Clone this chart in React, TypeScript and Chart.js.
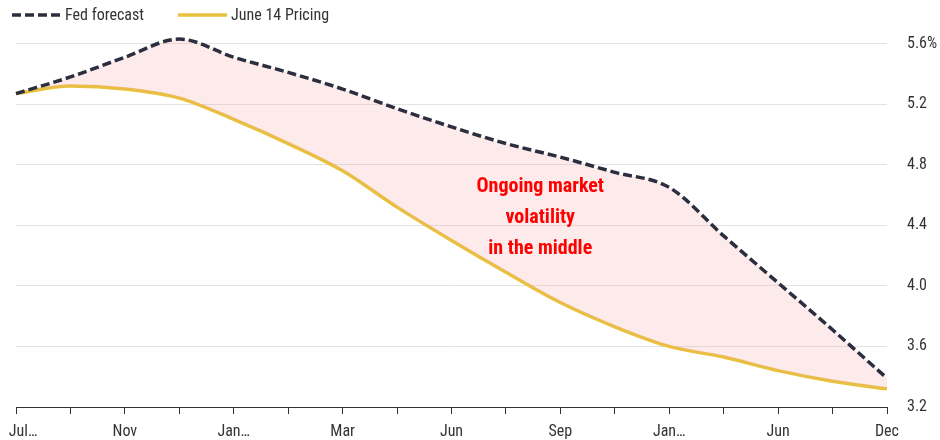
import React, { useEffect, useRef } from "react";
import { Chart, registerables } from "chart.js";

Chart.register(...registerables);

const FONT = '"Roboto Condensed", "Liberation Sans Narrow", "DejaVu Sans Condensed", sans-serif';

const categories = [
  "Jul 2023", "Sep", "Nov", "Dec", "Jan 2024", "Feb", "Mar", "May", "Jun",
  "Jul", "Sep", "Nov", "Jan 2025", "Mar", "Jun", "Sep", "Dec",
];

const fedForecast = [
  5.27, 5.38, 5.51, 5.63, 5.51, 5.41, 5.3, 5.17, 5.05, 4.94, 4.85, 4.75, 4.65,
  4.33, 4.02, 3.71, 3.39,
];

const june14Pricing = [
  5.27, 5.32, 5.3, 5.24, 5.1, 4.94, 4.76, 4.52, 4.3, 4.09, 3.89, 3.73, 3.6,
  3.53, 3.44, 3.37, 3.32,
];

const yTicks = [3.2, 3.6, 4.0, 4.4, 4.8, 5.2, 5.6];

const noteLines = ["Ongoing market", "volatility", "in the middle"];

const seriesNames = ["Fed forecast", "June 14 Pricing"];

const legendPlugin = {
  id: "lineLegend",
  afterDraw(chart: any) {
    const ctx = chart.ctx;
    let x = 12;
    const y = 15;
    chart.data.datasets.forEach((ds: any) => {
      ctx.save();
      ctx.strokeStyle = ds.borderColor;
      ctx.lineWidth = ds.borderWidth;
      ctx.setLineDash(ds.borderDash || []);
      ctx.beginPath();
      ctx.moveTo(x, y);
      ctx.lineTo(x + 49, y);
      ctx.stroke();
      ctx.setLineDash([]);
      ctx.font = `16px ${FONT}`;
      ctx.fillStyle = "#333333";
      ctx.textBaseline = "middle";
      ctx.textAlign = "left";
      ctx.fillText(ds.label, x + 53, y + 1);
      const w = ctx.measureText(ds.label).width;
      x = x + 53 + w + 34;
      ctx.restore();
    });
  },
};

const notePlugin = {
  id: "midNote",
  afterDatasetsDraw(chart: any) {
    const { ctx, scales } = chart;
    const cx = scales.x.getPixelForValue(9.63);
    const cy = scales.y.getPixelForValue(4.655);
    ctx.save();
    ctx.fillStyle = "#ff0000";
    ctx.font = `bold 20px ${FONT}`;
    ctx.textAlign = "center";
    ctx.textBaseline = "middle";
    noteLines.forEach((t, i) => ctx.fillText(t, cx, cy + i * 31));
    ctx.restore();
  },
};

export default function App() {
  const ref = useRef<HTMLCanvasElement | null>(null);

  useEffect(() => {
    if (!ref.current) return;
    const chart = new Chart(ref.current, {
      type: "line",
      data: {
        labels: categories,
        datasets: [
          {
            label: seriesNames[0],
            data: fedForecast,
            borderColor: "#2b2e3e",
            borderWidth: 3.5,
            borderDash: [9, 4],
            pointRadius: 0,
            cubicInterpolationMode: "monotone",
            fill: "+1",
            backgroundColor: "rgba(244,160,160,0.22)",
          },
          {
            label: seriesNames[1],
            data: june14Pricing,
            borderColor: "#e8c23c",
            borderWidth: 3.5,
            pointRadius: 0,
            cubicInterpolationMode: "monotone",
            fill: false,
          },
        ],
      },
      options: {
        animation: false,
        responsive: true,
        maintainAspectRatio: false,
        layout: { padding: { top: 30, left: 16, right: 0, bottom: 0 } },
        plugins: {
          legend: { display: false },
          tooltip: { enabled: false },
        },
        scales: {
          x: {
            type: "category",
            offset: false,
            grid: {
              display: true,
              drawOnChartArea: false,
              drawTicks: true,
              tickLength: 7,
              color: "#333333",
            },
            border: { display: true, color: "#333333", width: 1 },
            ticks: {
              autoSkip: false,
              maxRotation: 0,
              padding: 8,
              color: "#333333",
              font: { family: FONT, size: 16 },
              callback: (_v: any, i: number) => {
                if (i % 2 === 1) return "";
                const l = categories[i];
                const t = l.length > 3 ? l.slice(0, 3) + "…" : l;
                return i === 0 ? "\u2002\u2002" + t : t;
              },
            },
            afterFit: (s: any) => {
              s.height = 33;
              s.paddingLeft = 0;
              s.paddingRight = 0;
            },
          },
          y: {
            position: "right",
            min: 3.2,
            max: 5.69,
            grid: { color: "#e3e3e3", drawTicks: false },
            border: { display: false },
            ticks: {
              stepSize: 0.4,
              padding: 20,
              color: "#333333",
              font: { family: FONT, size: 16 },
              callback: (v: any) => {
                const n = Number(v);
                return Math.abs(n - 5.6) < 1e-6 ? "5.6%" : n.toFixed(1);
              },
            },
            afterBuildTicks: (s: any) => {
              s.ticks = yTicks.map((v) => ({ value: v }));
            },
            afterFit: (s: any) => {
              s.width = 53;
            },
          },
        },
      },
      plugins: [notePlugin, legendPlugin],
    } as any);
    return () => chart.destroy();
  }, []);

  return (
    <div style={{ position: "fixed", left: 0, top: 0, width: 940, height: 440, background: "#fff" }}>
      <canvas ref={ref} />
    </div>
  );
}
